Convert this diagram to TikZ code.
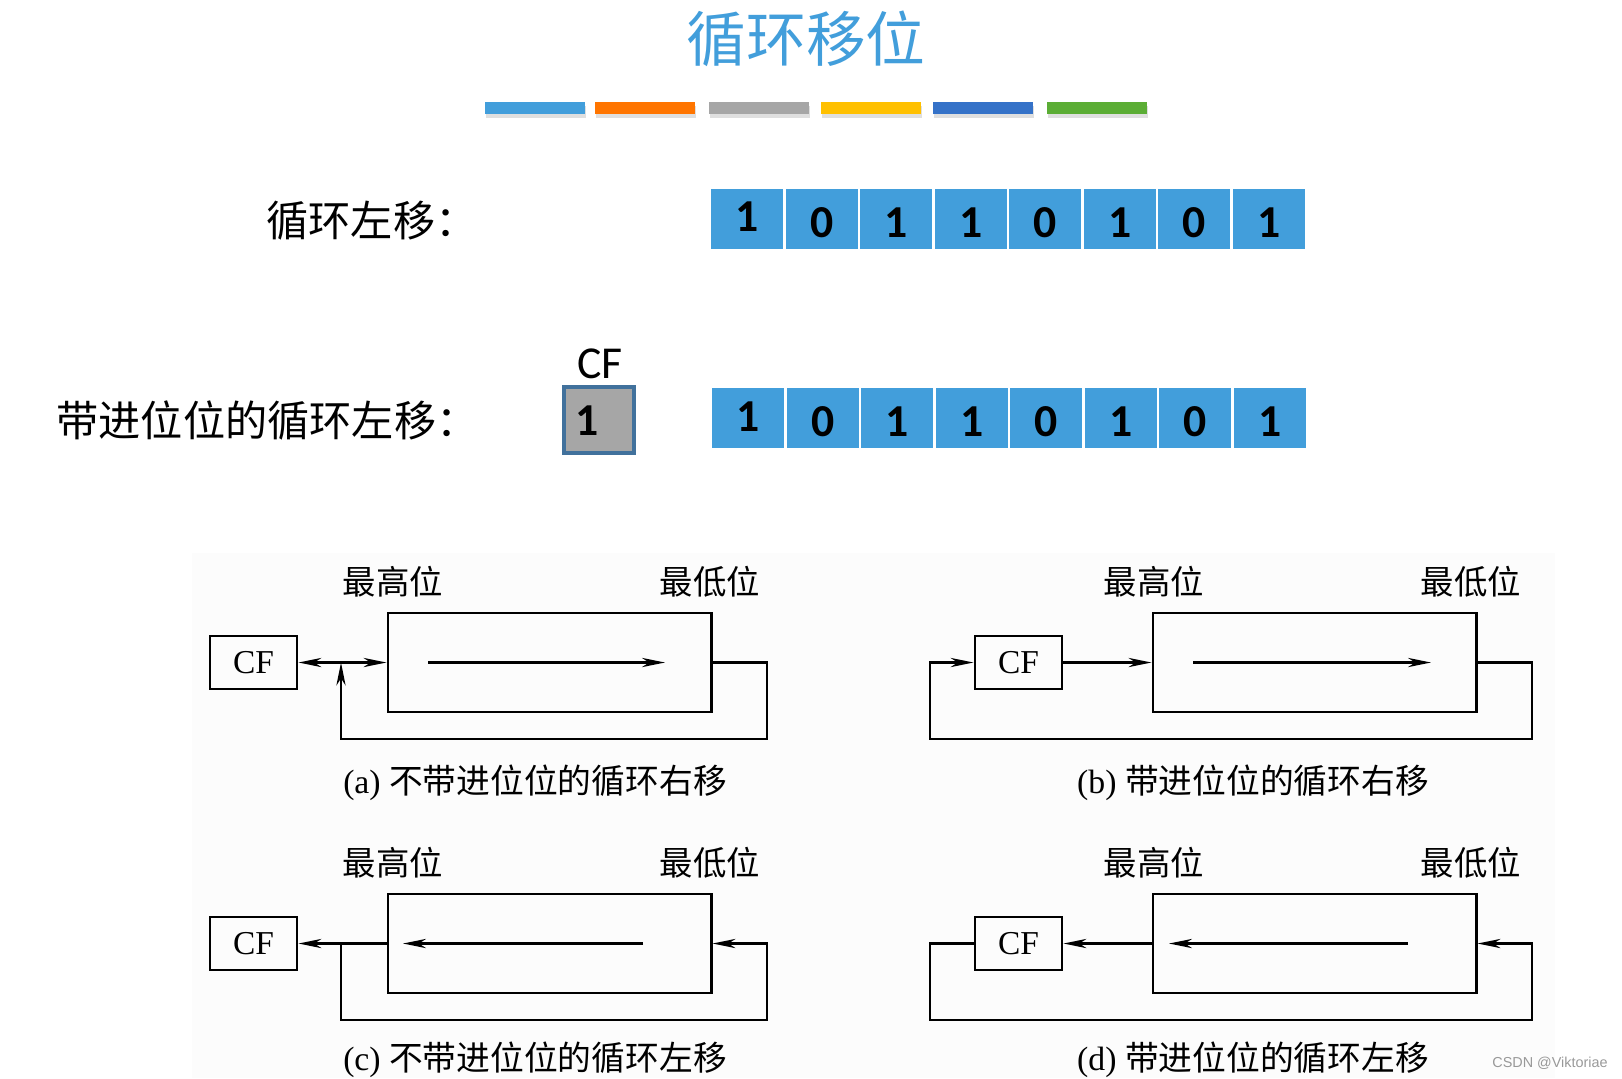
\documentclass[tikz,border=0pt]{standalone}
\usepackage{fontspec}
\setmainfont{Liberation Serif}
\newfontfamily\cjk{Noto Sans CJK SC}
\newfontfamily\calib{Carlito}
\newfontfamily\wmfont{Liberation Sans}
\usetikzlibrary{arrows.meta,shadows}

\definecolor{cellblue}{RGB}{66,158,219}
\definecolor{cfgray}{RGB}{166,166,166}
\definecolor{cfedge}{RGB}{65,113,156}
\definecolor{barorange}{RGB}{255,117,0}
\definecolor{baryellow}{RGB}{255,192,0}
\definecolor{bardark}{RGB}{53,114,200}
\definecolor{bargreen}{RGB}{91,173,53}
\definecolor{paper}{RGB}{252,252,252}

\begin{document}
\begin{tikzpicture}
  [x=0.01cm, y=-0.01cm, line width=0.8pt,
    >={Stealth[length=6.5pt,width=2.6pt,inset=2pt]},
    bar/.style={%
      rectangle, minimum width=1cm, minimum height=0.12cm, inner sep=0,
      drop shadow={opacity=0.25, shadow xshift=0.4pt, shadow yshift=-1.2pt}
    },
    cell/.style={%
      rectangle, fill=cellblue, draw=white, line width=0.7pt,
      minimum width=0.745cm, minimum height=0.62cm, inner sep=0
    },
    digit/.style={font=\calib\bfseries\fontsize{13}{15}\selectfont, inner sep=0},
    rowlab/.style={anchor=west, inner sep=0, font=\cjk\fontsize{12}{14}\selectfont},
    cfbox/.style={%
      rectangle, draw, minimum width=0.87cm, minimum height=0.53cm,
      font=\fontsize{9.5}{11}\selectfont
    },
    regbox/.style={rectangle, draw, minimum width=3.23cm, minimum height=0.99cm},
    bitlab/.style={inner sep=0, font=\cjk\fontsize{9.5}{11}\selectfont},
    caption/.style={inner sep=0, font=\fontsize{9.6}{11}\selectfont},
  ]
  \useasboundingbox (0,0) rectangle (1622,1078);
  \fill[paper] (192,553) rectangle (1555,1078);

  % title and colour strip
  \node[inner sep=0, text=cellblue, font=\cjk\fontsize{17}{20}\selectfont]
    (title) at (806,39) {循环移位};
  \foreach \x/\c in {535/cellblue, 645/barorange, 759/cfgray,
                     871/baryellow, 983/bardark, 1097/bargreen}
    \node[bar, fill=\c] (bar\x) at (\x,108) {};

  % rotate left
  \node[rowlab] (lab1) at (265,221) {循环左移：};
  \foreach \b [count=\i] in {1,0,1,1,0,1,0,1} {
    \pgfmathsetmacro\dy{\i==1 ? -6 : 0}
    \node[cell] (ra\i) at (710+\i*74.5-37.25,219) {};
    \node[digit] at (710+\i*74.5-37.25,{223+\dy}) {\b};
  }

  % rotate left through carry
  \node[rowlab] (lab2) at (55,420) {带进位位的循环左移：};
  \node[rectangle, fill=cfgray, draw=cfedge, line width=0.9pt,
    minimum width=0.7cm, minimum height=0.66cm] (cf) at (599,420) {};
  \node[digit] (cfbit) at (587,421) {1};
  \node[inner sep=0, font=\calib\fontsize{13}{15}\selectfont] (cflab) at (600,364) {CF};
  \foreach \b [count=\i] in {1,0,1,1,0,1,0,1} {
    \pgfmathsetmacro\dy{\i==1 ? -5 : 0}
    \node[cell] (rb\i) at (711+\i*74.5-37.25,418) {};
    \node[digit] at (711+\i*74.5-37.25,{422+\dy}) {\b};
  }

  % the four shift schemes
  \foreach \n/\dx/\dy/\lx in {a/0/0/0, b/765/0/-4, c/0/281/0, d/765/281/-4} {
    \begin{scope}[shift={(\dx,\dy)}]
      \node[cfbox] (cf\n) at (253.5,662.5) {CF};
      \node[regbox] (reg\n) at (549.5,662.5) {};
      \node[bitlab] (hi\n) at (393+\lx,582) {最高位};
      \node[bitlab] (lo\n) at (710+\lx,582) {最低位};
    \end{scope}
  }

  % (a)
  \coordinate (ja) at (341,662.5);
  \coordinate (ca) at (767,739);
  \coordinate (ia1) at (428,662.5);
  \coordinate (ia2) at (665,662.5);
  \draw[<->] (cfa.east) -- (rega.west);
  \draw[->] (ia1) -- (ia2);
  \draw[->] (rega.east) -| (ca) -| (ja);
  \node[caption] (capa) at (535,783) {(a) {\cjk 不带进位位的循环右移}};

  % (b)
  \coordinate (cb1) at (1532,739);
  \coordinate (cb2) at (930,662.5);
  \coordinate (ib1) at (1193,662.5);
  \coordinate (ib2) at (1431,662.5);
  \draw[->] (cfb.east) -- (regb.west);
  \draw[->] (ib1) -- (ib2);
  \draw[->] (regb.east) -| (cb1) -| (cb2) -- (cfb.west);
  \node[caption] (capb) at (1253,783) {(b) {\cjk 带进位位的循环右移}};

  % (c)
  \coordinate (jc) at (341,943.5);
  \coordinate (cc) at (767,1020);
  \coordinate (ic1) at (643,943.5);
  \coordinate (ic2) at (403,943.5);
  \draw[->] (regc.west) -- (cfc.east);
  \draw[->] (ic1) -- (ic2);
  \draw[->] (jc) |- (cc) |- (regc.east);
  \node[caption] (capc) at (535,1060) {(c) {\cjk 不带进位位的循环左移}};

  % (d)
  \coordinate (cd1) at (930,1020);
  \coordinate (cd2) at (1532,943.5);
  \coordinate (id1) at (1408,943.5);
  \coordinate (id2) at (1169,943.5);
  \draw[->] (regd.west) -- (cfd.east);
  \draw[->] (id1) -- (id2);
  \draw[->] (cfd.west) -| (cd1) -| (cd2) -- (regd.east);
  \node[caption] (capd) at (1253,1060) {(d) {\cjk 带进位位的循环左移}};

  \node[inner sep=0, text=gray!80, font=\wmfont\fontsize{4.1}{5}\selectfont]
    (mark) at (1550,1063) {CSDN @Viktoriae};
\end{tikzpicture}
\end{document}
